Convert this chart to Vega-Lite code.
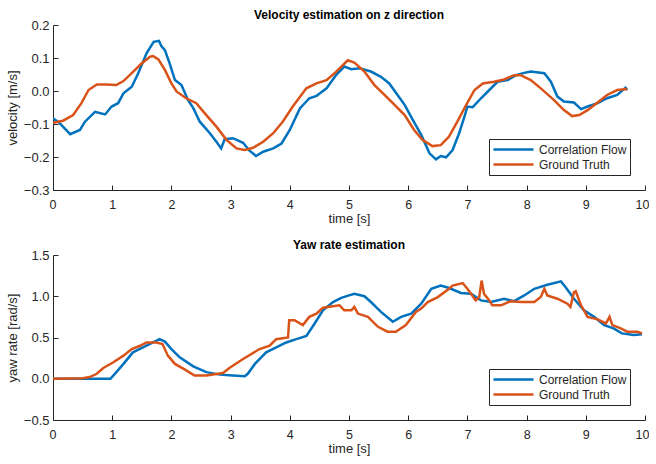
{
  "$schema": "https://vega.github.io/schema/vega-lite/v6.json",
  "padding": {"left": 6, "top": 9, "right": 0, "bottom": 0},
  "spacing": 13,
  "config": {
    "font": "Liberation Sans",
    "view": {"stroke": null},
    "axis": {
      "grid": false,
      "domainColor": "#262626",
      "tickColor": "#262626",
      "tickSize": -5,
      "labelColor": "#262626",
      "titleColor": "#262626",
      "labelFontSize": 13,
      "titleFontSize": 13,
      "titleFontWeight": "normal",
      "labelFont": "Liberation Sans",
      "titleFont": "Liberation Sans"
    },
    "axisX": {"labelFontSize": 12.5, "labelFlush": true, "labelFlushOffset": 4},
    "axisY": {"labelFlush": false},
    "title": {"fontSize": 12, "fontWeight": "bold", "color": "black", "font": "Liberation Sans", "offset": -3},
    "legend": {
      "orient": "bottom-right",
      "offset": 15,
      "title": null,
      "strokeColor": "#262626",
      "fillColor": "white",
      "padding": 3,
      "symbolType": "stroke",
      "symbolSize": 1600,
      "symbolStrokeWidth": 2.5,
      "labelFontSize": 12,
      "labelFont": "Liberation Sans",
      "labelColor": "#262626",
      "clipHeight": 15,
      "rowPadding": 0
    }
  },
  "datasets": {
    "vel": [
      {"t": 0, "v": -0.083, "s": "Correlation Flow"},
      {"t": 0.1, "v": -0.095, "s": "Correlation Flow"},
      {"t": 0.29, "v": -0.131, "s": "Correlation Flow"},
      {"t": 0.455, "v": -0.118, "s": "Correlation Flow"},
      {"t": 0.54, "v": -0.093, "s": "Correlation Flow"},
      {"t": 0.71, "v": -0.063, "s": "Correlation Flow"},
      {"t": 0.88, "v": -0.071, "s": "Correlation Flow"},
      {"t": 0.99, "v": -0.047, "s": "Correlation Flow"},
      {"t": 1.10, "v": -0.037, "s": "Correlation Flow"},
      {"t": 1.19, "v": -0.007, "s": "Correlation Flow"},
      {"t": 1.33, "v": 0.013, "s": "Correlation Flow"},
      {"t": 1.44, "v": 0.054, "s": "Correlation Flow"},
      {"t": 1.58, "v": 0.114, "s": "Correlation Flow"},
      {"t": 1.70, "v": 0.149, "s": "Correlation Flow"},
      {"t": 1.79, "v": 0.152, "s": "Correlation Flow"},
      {"t": 1.83, "v": 0.136, "s": "Correlation Flow"},
      {"t": 1.89, "v": 0.124, "s": "Correlation Flow"},
      {"t": 1.97, "v": 0.084, "s": "Correlation Flow"},
      {"t": 2.06, "v": 0.033, "s": "Correlation Flow"},
      {"t": 2.17, "v": 0.018, "s": "Correlation Flow"},
      {"t": 2.28, "v": -0.027, "s": "Correlation Flow"},
      {"t": 2.37, "v": -0.052, "s": "Correlation Flow"},
      {"t": 2.48, "v": -0.093, "s": "Correlation Flow"},
      {"t": 2.65, "v": -0.128, "s": "Correlation Flow"},
      {"t": 2.76, "v": -0.154, "s": "Correlation Flow"},
      {"t": 2.84, "v": -0.174, "s": "Correlation Flow"},
      {"t": 2.90, "v": -0.146, "s": "Correlation Flow"},
      {"t": 3.04, "v": -0.143, "s": "Correlation Flow"},
      {"t": 3.21, "v": -0.157, "s": "Correlation Flow"},
      {"t": 3.32, "v": -0.181, "s": "Correlation Flow"},
      {"t": 3.43, "v": -0.197, "s": "Correlation Flow"},
      {"t": 3.55, "v": -0.184, "s": "Correlation Flow"},
      {"t": 3.72, "v": -0.174, "s": "Correlation Flow"},
      {"t": 3.86, "v": -0.159, "s": "Correlation Flow"},
      {"t": 4.0, "v": -0.118, "s": "Correlation Flow"},
      {"t": 4.17, "v": -0.053, "s": "Correlation Flow"},
      {"t": 4.33, "v": -0.022, "s": "Correlation Flow"},
      {"t": 4.45, "v": -0.015, "s": "Correlation Flow"},
      {"t": 4.62, "v": 0.008, "s": "Correlation Flow"},
      {"t": 4.78, "v": 0.048, "s": "Correlation Flow"},
      {"t": 4.92, "v": 0.074, "s": "Correlation Flow"},
      {"t": 5.04, "v": 0.066, "s": "Correlation Flow"},
      {"t": 5.18, "v": 0.069, "s": "Correlation Flow"},
      {"t": 5.37, "v": 0.059, "s": "Correlation Flow"},
      {"t": 5.54, "v": 0.043, "s": "Correlation Flow"},
      {"t": 5.68, "v": 0.023, "s": "Correlation Flow"},
      {"t": 5.82, "v": -0.012, "s": "Correlation Flow"},
      {"t": 5.94, "v": -0.042, "s": "Correlation Flow"},
      {"t": 6.08, "v": -0.088, "s": "Correlation Flow"},
      {"t": 6.22, "v": -0.133, "s": "Correlation Flow"},
      {"t": 6.36, "v": -0.189, "s": "Correlation Flow"},
      {"t": 6.47, "v": -0.207, "s": "Correlation Flow"},
      {"t": 6.55, "v": -0.197, "s": "Correlation Flow"},
      {"t": 6.64, "v": -0.201, "s": "Correlation Flow"},
      {"t": 6.75, "v": -0.179, "s": "Correlation Flow"},
      {"t": 6.86, "v": -0.128, "s": "Correlation Flow"},
      {"t": 6.95, "v": -0.078, "s": "Correlation Flow"},
      {"t": 7.0, "v": -0.047, "s": "Correlation Flow"},
      {"t": 7.09, "v": -0.049, "s": "Correlation Flow"},
      {"t": 7.23, "v": -0.022, "s": "Correlation Flow"},
      {"t": 7.37, "v": 0.003, "s": "Correlation Flow"},
      {"t": 7.51, "v": 0.028, "s": "Correlation Flow"},
      {"t": 7.68, "v": 0.033, "s": "Correlation Flow"},
      {"t": 7.82, "v": 0.048, "s": "Correlation Flow"},
      {"t": 7.96, "v": 0.055, "s": "Correlation Flow"},
      {"t": 8.07, "v": 0.059, "s": "Correlation Flow"},
      {"t": 8.30, "v": 0.054, "s": "Correlation Flow"},
      {"t": 8.41, "v": 0.028, "s": "Correlation Flow"},
      {"t": 8.52, "v": -0.017, "s": "Correlation Flow"},
      {"t": 8.63, "v": -0.032, "s": "Correlation Flow"},
      {"t": 8.80, "v": -0.035, "s": "Correlation Flow"},
      {"t": 8.92, "v": -0.055, "s": "Correlation Flow"},
      {"t": 9.03, "v": -0.047, "s": "Correlation Flow"},
      {"t": 9.20, "v": -0.037, "s": "Correlation Flow"},
      {"t": 9.36, "v": -0.022, "s": "Correlation Flow"},
      {"t": 9.53, "v": -0.012, "s": "Correlation Flow"},
      {"t": 9.67, "v": 0.010, "s": "Correlation Flow"},
      {"t": 9.70, "v": 0.003, "s": "Correlation Flow"},
      {"t": 0, "v": -0.096, "s": "Ground Truth"},
      {"t": 0.17, "v": -0.090, "s": "Ground Truth"},
      {"t": 0.34, "v": -0.073, "s": "Ground Truth"},
      {"t": 0.48, "v": -0.037, "s": "Ground Truth"},
      {"t": 0.60, "v": 0.003, "s": "Ground Truth"},
      {"t": 0.74, "v": 0.020, "s": "Ground Truth"},
      {"t": 0.91, "v": 0.020, "s": "Ground Truth"},
      {"t": 1.07, "v": 0.018, "s": "Ground Truth"},
      {"t": 1.19, "v": 0.030, "s": "Ground Truth"},
      {"t": 1.33, "v": 0.054, "s": "Ground Truth"},
      {"t": 1.50, "v": 0.084, "s": "Ground Truth"},
      {"t": 1.64, "v": 0.104, "s": "Ground Truth"},
      {"t": 1.69, "v": 0.106, "s": "Ground Truth"},
      {"t": 1.78, "v": 0.096, "s": "Ground Truth"},
      {"t": 1.89, "v": 0.064, "s": "Ground Truth"},
      {"t": 2.0, "v": 0.023, "s": "Ground Truth"},
      {"t": 2.09, "v": -0.002, "s": "Ground Truth"},
      {"t": 2.25, "v": -0.022, "s": "Ground Truth"},
      {"t": 2.42, "v": -0.037, "s": "Ground Truth"},
      {"t": 2.59, "v": -0.073, "s": "Ground Truth"},
      {"t": 2.76, "v": -0.108, "s": "Ground Truth"},
      {"t": 2.93, "v": -0.148, "s": "Ground Truth"},
      {"t": 3.10, "v": -0.174, "s": "Ground Truth"},
      {"t": 3.24, "v": -0.179, "s": "Ground Truth"},
      {"t": 3.38, "v": -0.172, "s": "Ground Truth"},
      {"t": 3.55, "v": -0.154, "s": "Ground Truth"},
      {"t": 3.72, "v": -0.128, "s": "Ground Truth"},
      {"t": 3.88, "v": -0.093, "s": "Ground Truth"},
      {"t": 4.05, "v": -0.047, "s": "Ground Truth"},
      {"t": 4.28, "v": 0.008, "s": "Ground Truth"},
      {"t": 4.45, "v": 0.023, "s": "Ground Truth"},
      {"t": 4.62, "v": 0.033, "s": "Ground Truth"},
      {"t": 4.78, "v": 0.058, "s": "Ground Truth"},
      {"t": 4.98, "v": 0.093, "s": "Ground Truth"},
      {"t": 5.09, "v": 0.086, "s": "Ground Truth"},
      {"t": 5.26, "v": 0.059, "s": "Ground Truth"},
      {"t": 5.43, "v": 0.018, "s": "Ground Truth"},
      {"t": 5.60, "v": -0.012, "s": "Ground Truth"},
      {"t": 5.77, "v": -0.042, "s": "Ground Truth"},
      {"t": 5.94, "v": -0.073, "s": "Ground Truth"},
      {"t": 6.10, "v": -0.118, "s": "Ground Truth"},
      {"t": 6.24, "v": -0.148, "s": "Ground Truth"},
      {"t": 6.41, "v": -0.167, "s": "Ground Truth"},
      {"t": 6.55, "v": -0.164, "s": "Ground Truth"},
      {"t": 6.69, "v": -0.138, "s": "Ground Truth"},
      {"t": 6.83, "v": -0.093, "s": "Ground Truth"},
      {"t": 6.98, "v": -0.042, "s": "Ground Truth"},
      {"t": 7.12, "v": 0.003, "s": "Ground Truth"},
      {"t": 7.26, "v": 0.023, "s": "Ground Truth"},
      {"t": 7.45, "v": 0.028, "s": "Ground Truth"},
      {"t": 7.62, "v": 0.035, "s": "Ground Truth"},
      {"t": 7.79, "v": 0.048, "s": "Ground Truth"},
      {"t": 7.90, "v": 0.048, "s": "Ground Truth"},
      {"t": 8.07, "v": 0.033, "s": "Ground Truth"},
      {"t": 8.24, "v": 0.008, "s": "Ground Truth"},
      {"t": 8.46, "v": -0.027, "s": "Ground Truth"},
      {"t": 8.63, "v": -0.058, "s": "Ground Truth"},
      {"t": 8.77, "v": -0.076, "s": "Ground Truth"},
      {"t": 8.89, "v": -0.073, "s": "Ground Truth"},
      {"t": 9.03, "v": -0.058, "s": "Ground Truth"},
      {"t": 9.20, "v": -0.035, "s": "Ground Truth"},
      {"t": 9.36, "v": -0.012, "s": "Ground Truth"},
      {"t": 9.53, "v": 0.003, "s": "Ground Truth"},
      {"t": 9.70, "v": 0.006, "s": "Ground Truth"}
    ],
    "yaw": [
      {"t": 0, "v": 0, "s": "Correlation Flow"},
      {"t": 0.97, "v": 0, "s": "Correlation Flow"},
      {"t": 1.07, "v": 0.081, "s": "Correlation Flow"},
      {"t": 1.19, "v": 0.18, "s": "Correlation Flow"},
      {"t": 1.35, "v": 0.32, "s": "Correlation Flow"},
      {"t": 1.52, "v": 0.38, "s": "Correlation Flow"},
      {"t": 1.69, "v": 0.44, "s": "Correlation Flow"},
      {"t": 1.80, "v": 0.48, "s": "Correlation Flow"},
      {"t": 1.89, "v": 0.45, "s": "Correlation Flow"},
      {"t": 2.0, "v": 0.36, "s": "Correlation Flow"},
      {"t": 2.14, "v": 0.26, "s": "Correlation Flow"},
      {"t": 2.37, "v": 0.15, "s": "Correlation Flow"},
      {"t": 2.59, "v": 0.08, "s": "Correlation Flow"},
      {"t": 2.82, "v": 0.05, "s": "Correlation Flow"},
      {"t": 3.04, "v": 0.04, "s": "Correlation Flow"},
      {"t": 3.24, "v": 0.03, "s": "Correlation Flow"},
      {"t": 3.29, "v": 0.06, "s": "Correlation Flow"},
      {"t": 3.41, "v": 0.18, "s": "Correlation Flow"},
      {"t": 3.60, "v": 0.32, "s": "Correlation Flow"},
      {"t": 3.77, "v": 0.38, "s": "Correlation Flow"},
      {"t": 3.94, "v": 0.44, "s": "Correlation Flow"},
      {"t": 4.11, "v": 0.48, "s": "Correlation Flow"},
      {"t": 4.28, "v": 0.52, "s": "Correlation Flow"},
      {"t": 4.42, "v": 0.67, "s": "Correlation Flow"},
      {"t": 4.56, "v": 0.83, "s": "Correlation Flow"},
      {"t": 4.73, "v": 0.93, "s": "Correlation Flow"},
      {"t": 4.87, "v": 0.98, "s": "Correlation Flow"},
      {"t": 5.0, "v": 1.01, "s": "Correlation Flow"},
      {"t": 5.09, "v": 1.03, "s": "Correlation Flow"},
      {"t": 5.26, "v": 1.00, "s": "Correlation Flow"},
      {"t": 5.37, "v": 0.93, "s": "Correlation Flow"},
      {"t": 5.54, "v": 0.81, "s": "Correlation Flow"},
      {"t": 5.74, "v": 0.69, "s": "Correlation Flow"},
      {"t": 5.88, "v": 0.75, "s": "Correlation Flow"},
      {"t": 6.05, "v": 0.79, "s": "Correlation Flow"},
      {"t": 6.22, "v": 0.91, "s": "Correlation Flow"},
      {"t": 6.39, "v": 1.09, "s": "Correlation Flow"},
      {"t": 6.55, "v": 1.13, "s": "Correlation Flow"},
      {"t": 6.69, "v": 1.10, "s": "Correlation Flow"},
      {"t": 6.89, "v": 1.04, "s": "Correlation Flow"},
      {"t": 7.06, "v": 1.03, "s": "Correlation Flow"},
      {"t": 7.23, "v": 0.95, "s": "Correlation Flow"},
      {"t": 7.40, "v": 0.93, "s": "Correlation Flow"},
      {"t": 7.62, "v": 0.97, "s": "Correlation Flow"},
      {"t": 7.79, "v": 0.94, "s": "Correlation Flow"},
      {"t": 7.96, "v": 1.01, "s": "Correlation Flow"},
      {"t": 8.13, "v": 1.09, "s": "Correlation Flow"},
      {"t": 8.35, "v": 1.14, "s": "Correlation Flow"},
      {"t": 8.58, "v": 1.18, "s": "Correlation Flow"},
      {"t": 8.66, "v": 1.11, "s": "Correlation Flow"},
      {"t": 8.80, "v": 0.97, "s": "Correlation Flow"},
      {"t": 8.97, "v": 0.83, "s": "Correlation Flow"},
      {"t": 9.14, "v": 0.75, "s": "Correlation Flow"},
      {"t": 9.31, "v": 0.65, "s": "Correlation Flow"},
      {"t": 9.47, "v": 0.61, "s": "Correlation Flow"},
      {"t": 9.61, "v": 0.55, "s": "Correlation Flow"},
      {"t": 9.81, "v": 0.53, "s": "Correlation Flow"},
      {"t": 9.95, "v": 0.54, "s": "Correlation Flow"},
      {"t": 0, "v": 0, "s": "Ground Truth"},
      {"t": 0.5, "v": 0.005, "s": "Ground Truth"},
      {"t": 0.62, "v": 0.02, "s": "Ground Truth"},
      {"t": 0.74, "v": 0.06, "s": "Ground Truth"},
      {"t": 0.85, "v": 0.13, "s": "Ground Truth"},
      {"t": 1.02, "v": 0.20, "s": "Ground Truth"},
      {"t": 1.19, "v": 0.28, "s": "Ground Truth"},
      {"t": 1.33, "v": 0.36, "s": "Ground Truth"},
      {"t": 1.47, "v": 0.40, "s": "Ground Truth"},
      {"t": 1.58, "v": 0.44, "s": "Ground Truth"},
      {"t": 1.75, "v": 0.44, "s": "Ground Truth"},
      {"t": 1.85, "v": 0.42, "s": "Ground Truth"},
      {"t": 1.94, "v": 0.28, "s": "Ground Truth"},
      {"t": 2.06, "v": 0.18, "s": "Ground Truth"},
      {"t": 2.23, "v": 0.11, "s": "Ground Truth"},
      {"t": 2.39, "v": 0.04, "s": "Ground Truth"},
      {"t": 2.59, "v": 0.04, "s": "Ground Truth"},
      {"t": 2.87, "v": 0.07, "s": "Ground Truth"},
      {"t": 2.98, "v": 0.13, "s": "Ground Truth"},
      {"t": 3.21, "v": 0.24, "s": "Ground Truth"},
      {"t": 3.49, "v": 0.36, "s": "Ground Truth"},
      {"t": 3.66, "v": 0.40, "s": "Ground Truth"},
      {"t": 3.77, "v": 0.48, "s": "Ground Truth"},
      {"t": 3.97, "v": 0.50, "s": "Ground Truth"},
      {"t": 3.99, "v": 0.71, "s": "Ground Truth"},
      {"t": 4.08, "v": 0.71, "s": "Ground Truth"},
      {"t": 4.22, "v": 0.65, "s": "Ground Truth"},
      {"t": 4.33, "v": 0.75, "s": "Ground Truth"},
      {"t": 4.45, "v": 0.79, "s": "Ground Truth"},
      {"t": 4.56, "v": 0.86, "s": "Ground Truth"},
      {"t": 4.73, "v": 0.88, "s": "Ground Truth"},
      {"t": 4.84, "v": 0.89, "s": "Ground Truth"},
      {"t": 4.92, "v": 0.83, "s": "Ground Truth"},
      {"t": 5.04, "v": 0.83, "s": "Ground Truth"},
      {"t": 5.09, "v": 0.87, "s": "Ground Truth"},
      {"t": 5.15, "v": 0.79, "s": "Ground Truth"},
      {"t": 5.32, "v": 0.75, "s": "Ground Truth"},
      {"t": 5.49, "v": 0.63, "s": "Ground Truth"},
      {"t": 5.65, "v": 0.57, "s": "Ground Truth"},
      {"t": 5.79, "v": 0.57, "s": "Ground Truth"},
      {"t": 5.96, "v": 0.65, "s": "Ground Truth"},
      {"t": 6.13, "v": 0.81, "s": "Ground Truth"},
      {"t": 6.22, "v": 0.85, "s": "Ground Truth"},
      {"t": 6.33, "v": 0.93, "s": "Ground Truth"},
      {"t": 6.50, "v": 0.99, "s": "Ground Truth"},
      {"t": 6.69, "v": 1.09, "s": "Ground Truth"},
      {"t": 6.75, "v": 1.13, "s": "Ground Truth"},
      {"t": 6.92, "v": 1.16, "s": "Ground Truth"},
      {"t": 7.00, "v": 1.09, "s": "Ground Truth"},
      {"t": 7.14, "v": 0.95, "s": "Ground Truth"},
      {"t": 7.20, "v": 0.99, "s": "Ground Truth"},
      {"t": 7.24, "v": 1.19, "s": "Ground Truth"},
      {"t": 7.28, "v": 1.03, "s": "Ground Truth"},
      {"t": 7.37, "v": 0.95, "s": "Ground Truth"},
      {"t": 7.42, "v": 0.89, "s": "Ground Truth"},
      {"t": 7.57, "v": 0.89, "s": "Ground Truth"},
      {"t": 7.73, "v": 0.94, "s": "Ground Truth"},
      {"t": 7.90, "v": 0.93, "s": "Ground Truth"},
      {"t": 8.13, "v": 0.93, "s": "Ground Truth"},
      {"t": 8.24, "v": 0.99, "s": "Ground Truth"},
      {"t": 8.30, "v": 1.09, "s": "Ground Truth"},
      {"t": 8.35, "v": 1.01, "s": "Ground Truth"},
      {"t": 8.52, "v": 0.97, "s": "Ground Truth"},
      {"t": 8.69, "v": 0.91, "s": "Ground Truth"},
      {"t": 8.74, "v": 0.87, "s": "Ground Truth"},
      {"t": 8.80, "v": 1.05, "s": "Ground Truth"},
      {"t": 8.83, "v": 1.06, "s": "Ground Truth"},
      {"t": 8.92, "v": 0.89, "s": "Ground Truth"},
      {"t": 9.03, "v": 0.75, "s": "Ground Truth"},
      {"t": 9.20, "v": 0.72, "s": "Ground Truth"},
      {"t": 9.34, "v": 0.67, "s": "Ground Truth"},
      {"t": 9.40, "v": 0.75, "s": "Ground Truth"},
      {"t": 9.45, "v": 0.65, "s": "Ground Truth"},
      {"t": 9.59, "v": 0.61, "s": "Ground Truth"},
      {"t": 9.70, "v": 0.57, "s": "Ground Truth"},
      {"t": 9.87, "v": 0.57, "s": "Ground Truth"},
      {"t": 9.95, "v": 0.55, "s": "Ground Truth"}
    ]
  },
  "resolve": {"scale": {"color": "independent"}, "legend": {"color": "independent"}},
  "vconcat": [
    {
      "title": "Velocity estimation on z direction",
      "width": 592,
      "height": 165,
      "data": {"name": "vel"},
      "mark": {"type": "line", "strokeWidth": 2.5, "clip": true},
      "encoding": {
        "x": {"field": "t", "type": "quantitative", "scale": {"domain": [0, 10], "nice": false}, "axis": {"title": "time [s]", "values": [0,1,2,3,4,5,6,7,8,9,10], "labelPadding": 13, "titlePadding": 2}},
        "y": {"field": "v", "type": "quantitative", "scale": {"domain": [-0.3, 0.2], "nice": false, "zero": false}, "axis": {"title": "velocity [m/s]", "values": [-0.3,-0.2,-0.1,0,0.1,0.2], "labelPadding": 9, "titlePadding": 4}},
        "color": {"field": "s", "type": "nominal", "scale": {"domain": ["Correlation Flow", "Ground Truth"], "range": ["#0072BD", "#D95319"]}}
      }
    },
    {
      "title": "Yaw rate estimation",
      "width": 592,
      "height": 165,
      "data": {"name": "yaw"},
      "mark": {"type": "line", "strokeWidth": 2.5, "clip": true},
      "encoding": {
        "x": {"field": "t", "type": "quantitative", "scale": {"domain": [0, 10], "nice": false}, "axis": {"title": "time [s]", "values": [0,1,2,3,4,5,6,7,8,9,10], "labelPadding": 13, "titlePadding": 2}},
        "y": {"field": "v", "type": "quantitative", "scale": {"domain": [-0.5, 1.5], "nice": false, "zero": false}, "axis": {"title": "yaw rate [rad/s]", "values": [-0.5,0,0.5,1,1.5], "labelPadding": 9, "titlePadding": 4}},
        "color": {"field": "s", "type": "nominal", "scale": {"domain": ["Correlation Flow", "Ground Truth"], "range": ["#0072BD", "#D95319"]}}
      }
    }
  ]
}
